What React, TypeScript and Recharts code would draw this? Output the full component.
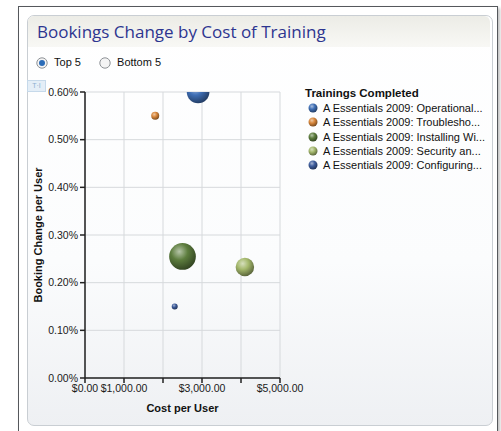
import React from 'react';
import { ScatterChart, Scatter, XAxis, YAxis, ZAxis, CartesianGrid } from 'recharts';

// trainings shown in the "Top 5" view
const trainings = [
  'A Essentials 2009: Operational...',
  'A Essentials 2009: Troublesho...',
  'A Essentials 2009: Installing Wi...',
  'A Essentials 2009: Security an...',
  'A Essentials 2009: Configuring...',
];
const costPerUser = [2900, 1800, 2500, 4100, 2300];
const bookingChange = [0.006, 0.0055, 0.00255, 0.00233, 0.0015];
const completions = [72, 9, 100, 48, 5];
const colors = ['#3f6fb6', '#d8863a', '#5d7d3e', '#a4b86c', '#3d5c9c'];

const xTicks = [0, 1000, 2000, 3000, 4000, 5000];
const xTickLabels = ['$0.00', '$1,000.00', '', '$3,000.00', '', '$5,000.00'];
const yTicks = [0, 0.001, 0.002, 0.003, 0.004, 0.005, 0.006];

const font = '"Liberation Sans", Arial, sans-serif';

const shade = (hex: string, amt: number) => {
  const n = parseInt(hex.slice(1), 16);
  const f = (c: number) => Math.max(0, Math.min(255, Math.round(amt > 0 ? c + (255 - c) * amt : c * (1 + amt))));
  const r = f((n >> 16) & 255), g = f((n >> 8) & 255), b = f(n & 255);
  return `rgb(${r},${g},${b})`;
};

const Sphere = (props: any) => {
  const { cx, cy, width, fill, index, gid } = props;
  const r = width / 2;
  const id = `sph-${gid}-${index}`;
  return (
    <g>
      <defs>
        <radialGradient id={id} cx="38%" cy="32%" r="70%">
          <stop offset="0%" stopColor={shade(fill, 0.55)} />
          <stop offset="45%" stopColor={fill} />
          <stop offset="100%" stopColor={shade(fill, -0.45)} />
        </radialGradient>
      </defs>
      <circle cx={cx} cy={cy} r={r} fill={`url(#${id})`} />
    </g>
  );
};

const Radio = ({ on }: { on: boolean }) => (
  <svg width="12" height="12" style={{ verticalAlign: 'middle' }}>
    <circle cx="6" cy="6" r="5.2" fill="#f4f4f4" stroke="#8e9296" strokeWidth="1" />
    {on && <circle cx="6" cy="6" r="3" fill="#2b6cb8" />}
  </svg>
);

export default function App() {
  const series = trainings.map((name, i) => ({
    name,
    color: colors[i],
    data: [{ cost: costPerUser[i], change: bookingChange[i], n: completions[i] }],
  }));

  return (
    <div style={{ position: 'absolute', left: 0, top: 0, width: 501, height: 431, background: '#fff', overflow: 'hidden', fontFamily: font }}>
      <div style={{ position: 'absolute', left: 18, top: 6, width: 478, height: 440, border: '1px solid #55585c', boxShadow: '2px 2px 3px rgba(0,0,0,0.25)' }} />
      <div style={{ position: 'absolute', left: 27, top: 15, width: 464, height: 409, border: '1px solid #c9ced3', borderRadius: 7, background: 'linear-gradient(#ffffff 0%, #fbfcfd 60%, #eef0f3 100%)' }} />
      <div style={{ position: 'absolute', left: 28, top: 16, width: 462, height: 31, borderRadius: '6px 6px 0 0', background: 'linear-gradient(#ecece6, #f8f8f5)' }} />
      <div style={{ position: 'absolute', left: 37, top: 20, fontFamily: '"Open Sans", sans-serif', fontSize: 17, color: '#2d3590', whiteSpace: 'nowrap' }}>
        Bookings Change by Cost of Training
      </div>
      <div style={{ position: 'absolute', left: 36, top: 56, fontSize: 11, color: '#111', whiteSpace: 'nowrap' }}>
        <Radio on /> <span style={{ marginLeft: 3 }}>Top 5</span>
        <span style={{ marginLeft: 18 }}><Radio on={false} /></span> <span style={{ marginLeft: 3 }}>Bottom 5</span>
      </div>
      <div style={{ position: 'absolute', left: 27, top: 80, width: 17, height: 10, border: '1px solid #c6d9ea', background: '#e4eef7', fontSize: 7, color: '#8fb0d0', lineHeight: '10px', textAlign: 'center' }}>T·I</div>

      <div style={{ position: 'absolute', left: 0, top: 0 }}>
        <ScatterChart width={501} height={431} margin={{ top: 92, right: 221, bottom: 13, left: 30 }}>
          <CartesianGrid stroke="#d6d9dc" strokeWidth={1} />
          <XAxis
            type="number"
            dataKey="cost"
            domain={[0, 5000]}
            ticks={xTicks}
            tickFormatter={(v: number) => xTickLabels[xTicks.indexOf(v)]}
            interval={0}
            height={40}
            stroke="#222"
            strokeWidth={1.5}
            tickSize={5}
            tick={{ fill: '#1a1a1a', fontSize: 10.5, fontFamily: font }}
            label={{ value: 'Cost per User', position: 'insideBottom', offset: 6, fill: '#111', fontSize: 11, fontWeight: 'bold', fontFamily: font }}
          />
          <YAxis
            type="number"
            dataKey="change"
            domain={[0, 0.006]}
            ticks={yTicks}
            allowDataOverflow
            tickFormatter={(v: number) => `${(v * 100).toFixed(2)}%`}
            width={55}
            stroke="#222"
            strokeWidth={1.5}
            tickSize={5}
            tick={{ fill: '#1a1a1a', fontSize: 10.5, fontFamily: font }}
            label={{ value: 'Booking Change per User', angle: -90, position: 'insideLeft', offset: 8, fill: '#111', fontSize: 11, fontWeight: 'bold', fontFamily: font, style: { textAnchor: 'middle' } }}
          />
          <ZAxis type="number" dataKey="n" domain={[0, 100]} range={[0, 560]} />
          {series.map((s, i) => (
            <Scatter
              key={s.name}
              name={s.name}
              data={s.data}
              fill={s.color}
              isAnimationActive={false}
              shape={(p: any) => <Sphere {...p} fill={s.color} gid={i} />}
            />
          ))}
        </ScatterChart>
      </div>

      <div style={{ position: 'absolute', left: 305, top: 87, fontSize: 11, color: '#111' }}>
        <div style={{ fontWeight: 'bold', fontSize: 11.5, marginBottom: 2 }}>Trainings Completed</div>
        {series.map((s, i) => (
          <div key={s.name} style={{ height: 14.3, lineHeight: '14px', whiteSpace: 'nowrap', display: 'flex', alignItems: 'center' }}>
            <svg width="18" height="12" style={{ flex: 'none' }}>
              <defs>
                <radialGradient id={`lg-${i}`} cx="38%" cy="32%" r="70%">
                  <stop offset="0%" stopColor={shade(s.color, 0.55)} />
                  <stop offset="45%" stopColor={s.color} />
                  <stop offset="100%" stopColor={shade(s.color, -0.45)} />
                </radialGradient>
              </defs>
              <circle cx="8" cy="6" r="4.5" fill={`url(#lg-${i})`} />
            </svg>
            <span>{s.name}</span>
          </div>
        ))}
      </div>
    </div>
  );
}
